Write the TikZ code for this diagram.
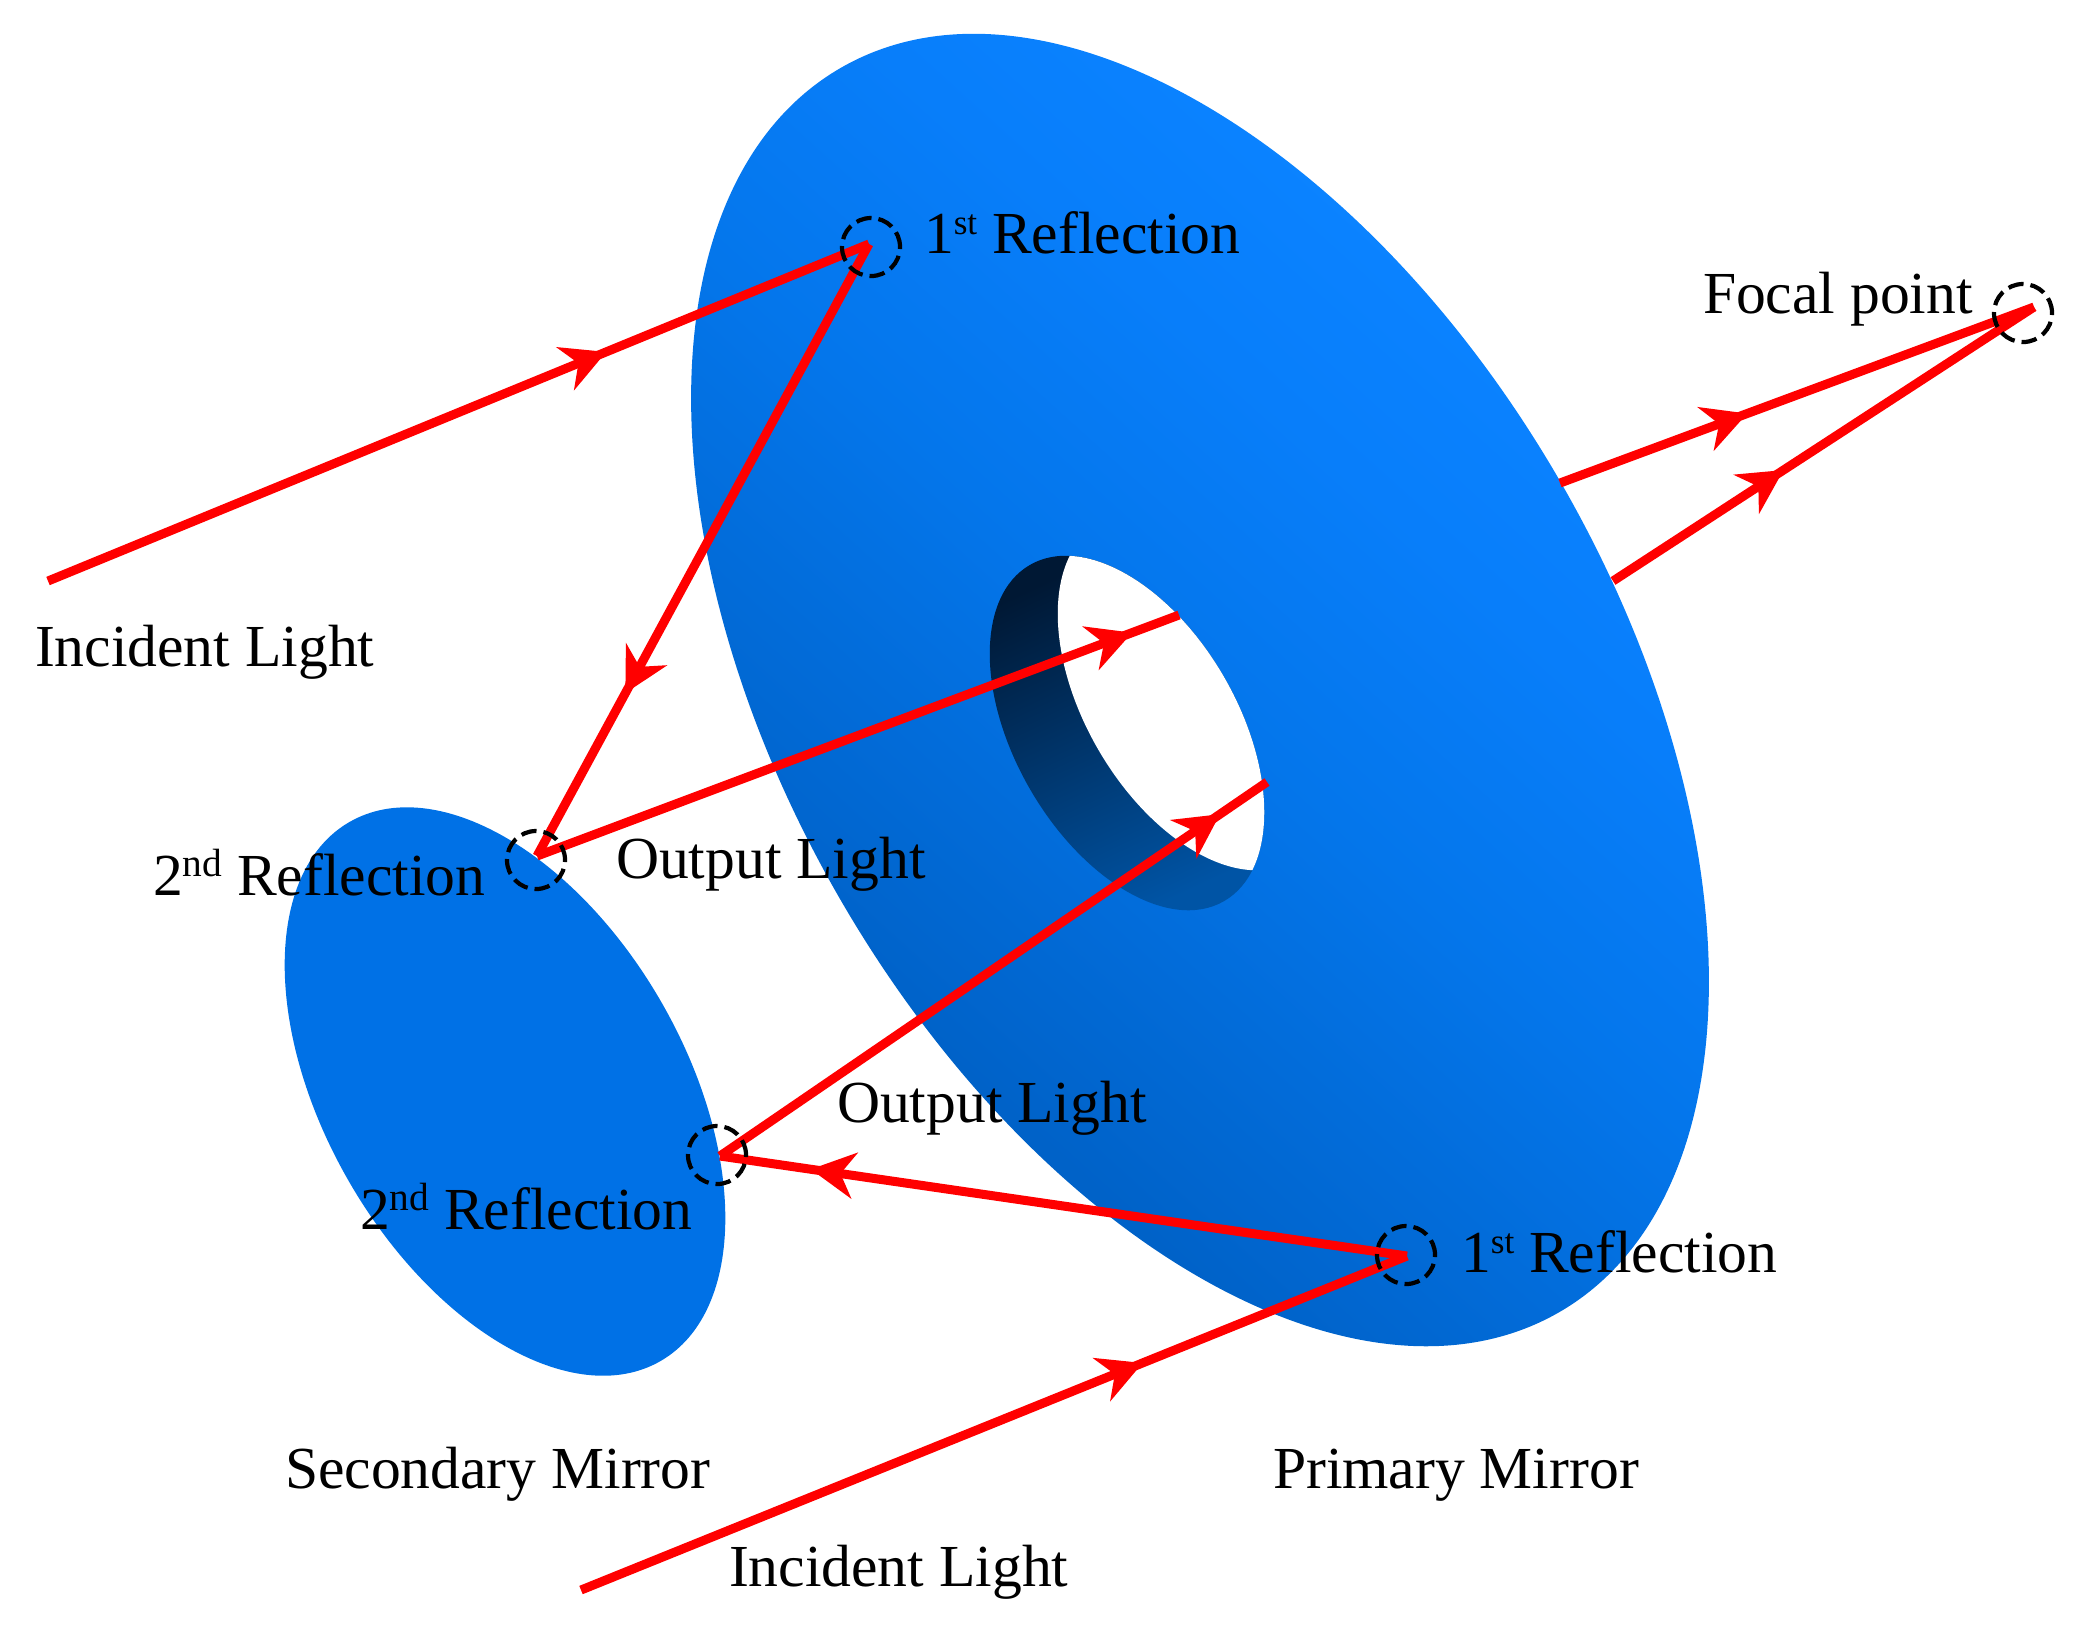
\documentclass[tikz,border=0pt]{standalone}
\usepackage{fontspec}
\setmainfont{Liberation Serif}
\usetikzlibrary{arrows.meta,decorations.markings}
\definecolor{secM}{RGB}{0,113,230}
\definecolor{wallA}{RGB}{0,24,52}
\definecolor{wallB}{RGB}{0,70,140}
\definecolor{wallC}{RGB}{0,84,165}
\definecolor{rayred}{RGB}{255,0,0}
\pgfdeclareverticalshading{mirshade}{100bp}{
  rgb(0bp)=(0,0.384,0.784);
  rgb(33bp)=(0,0.384,0.784);
  rgb(50bp)=(0.016,0.463,0.922);
  rgb(60bp)=(0.031,0.494,0.98);
  rgb(67bp)=(0.04,0.51,1);
  rgb(73bp)=(0.125,0.596,1);
  rgb(100bp)=(0.125,0.596,1)}
\newcommand{\supt}[2][10pt]{\raisebox{5.2pt}{\fontsize{#1}{12pt}\selectfont #2}}
\tikzset{
  lbl/.style={anchor=base west,inner sep=0pt,outer sep=0pt,text=black,font=\fontsize{16.95pt}{20pt}\selectfont},
  spot/.style={circle,draw=black,line width=0.042cm,dash pattern=on 0.155cm off 0.07cm,minimum size=0.58cm,inner sep=0pt},
  raybase/.style={draw=rayred,line width=0.09cm},
  ray/.style={raybase,postaction={decorate},decoration={markings,mark=at position #1 with {\arrow[rayred]{Stealth[length=0.44cm,width=0.46cm,inset=0.14cm]}}}}
}
\begin{document}
\begin{tikzpicture}[x=0.01cm,y=-0.01cm]
\useasboundingbox (0,0) rectangle (2091,1632);
% primary mirror
\shade[shading=mirshade,shading angle=-42]
  (1200,690) ellipse [x radius=7.18cm,y radius=4.16cm,rotate=-60];
% central hole: wall
\begin{scope}
\clip (1127,733) ellipse [x radius=1.94cm,y radius=1.12cm,rotate=-60];
\shade[top color=wallA,middle color=wallB,bottom color=wallC,shading angle=25]
  (980,550) rectangle (1270,915);
\clip (1195,693) ellipse [x radius=1.94cm,y radius=1.12cm,rotate=-60];
\fill[white] (960,540) rectangle (1290,915);
\end{scope}
% secondary mirror
\fill[secM] (505,1091.5) ellipse [x radius=3.11cm,y radius=1.80cm,rotate=-60];
% labels
\node[lbl] (t1) at (924,253) {1\supt{st} Reflection};
\node[lbl] (t2) at (1703,313) {Focal point};
\node[lbl] (t3) at (35,666) {Incident Light};
\node[lbl] (t4) at (153,895) {2\supt[11.2pt]{nd} Reflection};
\node[lbl] (t5) at (616,878) {Output Light};
\node[lbl] (t6) at (837,1122) {Output Light};
\node[lbl] (t7) at (360,1229) {2\supt[11.2pt]{nd} Reflection};
\node[lbl] (t8) at (1461,1272) {1\supt{st} Reflection};
\node[lbl] (t9) at (285,1488) {Secondary Mirror};
\node[lbl] (t10) at (1273,1488) {Primary Mirror};
\node[lbl] (t11) at (729,1586) {Incident Light};
% ray end points
\coordinate (inA) at (48,581);
\coordinate (rA) at (869,244);
\coordinate (sA) at (537,856);
\coordinate (outA) at (1179,615);
\coordinate (inB) at (581,1590);
\coordinate (rB) at (1407,1256);
\coordinate (sB) at (720,1156);
\coordinate (outB) at (1267,782);
\coordinate (backA) at (1560,483);
\coordinate (backB) at (1613,581);
\coordinate (focus) at (2034,307);
% rays
\path[ray=0.68] (inA) -- (rA);
\path[ray=0.734] (rA) -- (sA);
\path[ray=0.927] (sA) -- (outA);
\path[ray=0.68] (inB) -- (rB);
\path[ray=0.868] (rB) -- (sB);
\path[ray=0.914] (sB) -- (outB);
\path[ray=0.395] (backA) -- (focus);
\path[ray=0.405] (backB) -- (focus);
% dashed circles
\node[spot] (c1) at (871,247) {};
\node[spot] (c2) at (536,860) {};
\node[spot] (c3) at (717,1155) {};
\node[spot] (c4) at (1406,1255) {};
\node[spot] (c5) at (2023,313) {};
\end{tikzpicture}
\end{document}
